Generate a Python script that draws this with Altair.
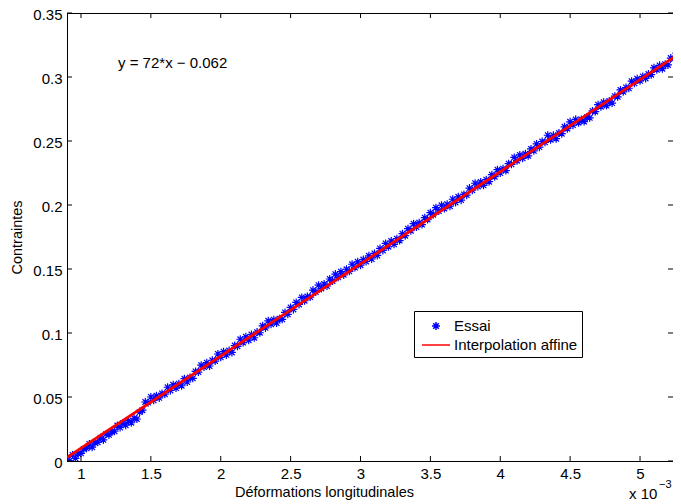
import altair as alt
import pandas as pd

# Essai (x in units of 1e-3) - two interleaved readings of the dense cloud
essai_x_a = [0.90, 0.94, 0.98, 1.02, 1.06, 1.10, 1.14, 1.18, 1.22, 1.26,
             1.30, 1.34, 1.38, 1.42, 1.46, 1.50, 1.54, 1.58, 1.62, 1.66,
             1.70, 1.74, 1.78, 1.82, 1.86, 1.90, 1.94, 1.98, 2.02, 2.06,
             2.10, 2.14, 2.18, 2.22, 2.26, 2.30, 2.34, 2.38, 2.42, 2.46,
             2.50, 2.54, 2.58, 2.62, 2.66, 2.70, 2.74, 2.78, 2.82, 2.86,
             2.90, 2.94, 2.98, 3.02, 3.06, 3.10, 3.14, 3.18, 3.22, 3.26,
             3.30, 3.34, 3.38, 3.42, 3.46, 3.50, 3.54, 3.58, 3.62, 3.66,
             3.70, 3.74, 3.78, 3.82, 3.86, 3.90, 3.94, 3.98, 4.02, 4.06,
             4.10, 4.14, 4.18, 4.22, 4.26, 4.30, 4.34, 4.38, 4.42, 4.46,
             4.50, 4.54, 4.58, 4.62, 4.66, 4.70, 4.74, 4.78, 4.82, 4.86,
             4.90, 4.94, 4.98, 5.02, 5.06, 5.10, 5.14, 5.18, 5.22, 5.26,
             5.30]
essai_y_a = [0.0008, 0.0047, 0.0056, 0.0094, 0.0133, 0.0142, 0.0181, 0.0210, 0.0228, 0.0277,
             0.0296, 0.0315, 0.0334, 0.0382, 0.0461, 0.0500, 0.0509, 0.0528, 0.0576, 0.0595,
             0.0604, 0.0643, 0.0652, 0.0700, 0.0749, 0.0768, 0.0787, 0.0836, 0.0854, 0.0863,
             0.0902, 0.0951, 0.0970, 0.0988, 0.1007, 0.1056, 0.1095, 0.1104, 0.1112, 0.1161,
             0.1200, 0.1239, 0.1278, 0.1286, 0.1335, 0.1374, 0.1383, 0.1422, 0.1460, 0.1479,
             0.1498, 0.1537, 0.1556, 0.1574, 0.1603, 0.1622, 0.1661, 0.1700, 0.1718, 0.1737,
             0.1776, 0.1815, 0.1854, 0.1862, 0.1901, 0.1940, 0.1979, 0.1998, 0.2006, 0.2045,
             0.2064, 0.2083, 0.2132, 0.2170, 0.2179, 0.2198, 0.2237, 0.2276, 0.2284, 0.2323,
             0.2372, 0.2391, 0.2400, 0.2438, 0.2477, 0.2496, 0.2545, 0.2544, 0.2562, 0.2611,
             0.2650, 0.2669, 0.2668, 0.2686, 0.2735, 0.2784, 0.2803, 0.2812, 0.2850, 0.2899,
             0.2918, 0.2967, 0.2986, 0.3004, 0.3023, 0.3072, 0.3091, 0.3100, 0.3148, 0.3187,
             0.3196]
essai_x_b = [0.92, 0.96, 1.00, 1.04, 1.08, 1.12, 1.16, 1.20, 1.24, 1.28,
             1.32, 1.36, 1.40, 1.44, 1.48, 1.52, 1.56, 1.60, 1.64, 1.68,
             1.72, 1.76, 1.80, 1.84, 1.88, 1.92, 1.96, 2.00, 2.04, 2.08,
             2.12, 2.16, 2.20, 2.24, 2.28, 2.32, 2.36, 2.40, 2.44, 2.48,
             2.52, 2.56, 2.60, 2.64, 2.68, 2.72, 2.76, 2.80, 2.84, 2.88,
             2.92, 2.96, 3.00, 3.04, 3.08, 3.12, 3.16, 3.20, 3.24, 3.28,
             3.32, 3.36, 3.40, 3.44, 3.48, 3.52, 3.56, 3.60, 3.64, 3.68,
             3.72, 3.76, 3.80, 3.84, 3.88, 3.92, 3.96, 4.00, 4.04, 4.08,
             4.12, 4.16, 4.20, 4.24, 4.28, 4.32, 4.36, 4.40, 4.44, 4.48,
             4.52, 4.56, 4.60, 4.64, 4.68, 4.72, 4.76, 4.80, 4.84, 4.88,
             4.92, 4.96, 5.00, 5.04, 5.08, 5.12, 5.16, 5.20, 5.24, 5.28]
essai_y_b = [0.0002, 0.0021, 0.0060, 0.0099, 0.0108, 0.0146, 0.0165, 0.0204, 0.0233, 0.0262,
             0.0280, 0.0299, 0.0328, 0.0397, 0.0456, 0.0474, 0.0493, 0.0522, 0.0551, 0.0570,
             0.0588, 0.0617, 0.0646, 0.0695, 0.0734, 0.0742, 0.0781, 0.0810, 0.0829, 0.0848,
             0.0896, 0.0925, 0.0944, 0.0963, 0.1002, 0.1040, 0.1069, 0.1078, 0.1107, 0.1146,
             0.1184, 0.1223, 0.1252, 0.1281, 0.1320, 0.1348, 0.1367, 0.1406, 0.1435, 0.1454,
             0.1482, 0.1511, 0.1530, 0.1559, 0.1578, 0.1606, 0.1645, 0.1674, 0.1693, 0.1722,
             0.1760, 0.1799, 0.1828, 0.1847, 0.1886, 0.1924, 0.1953, 0.1972, 0.1991, 0.2020,
             0.2038, 0.2077, 0.2116, 0.2145, 0.2154, 0.2182, 0.2221, 0.2250, 0.2269, 0.2318,
             0.2346, 0.2365, 0.2384, 0.2423, 0.2452, 0.2490, 0.2509, 0.2518, 0.2557, 0.2596,
             0.2624, 0.2643, 0.2652, 0.2681, 0.2730, 0.2768, 0.2777, 0.2796, 0.2845, 0.2884,
             0.2912, 0.2951, 0.2970, 0.2989, 0.3018, 0.3056, 0.3065, 0.3094, 0.3143, 0.3162]

# Interpolation affine : y = 72*x - 0.062
fit_x = [0.90, 5.30]
fit_y = [0.0028, 0.3196]

series_names = ["Essai", "Interpolation affine"]
series_colors = ["#0000ff", "#ff0000"]

x_ticks = [1, 1.5, 2, 2.5, 3, 3.5, 4, 4.5, 5]
y_ticks = [0, 0.05, 0.1, 0.15, 0.2, 0.25, 0.3, 0.35]

equation = "y = 72*x \u2212 0.062"
eq_pos_x = [1.265]
eq_pos_y = [0.311]

FONT = "Liberation Sans"
W, H = 606, 448
TICK = 5

df_pts = pd.DataFrame({"x": essai_x_a + essai_x_b, "y": essai_y_a + essai_y_b,
                       "serie": series_names[0]})
df_fit = pd.DataFrame({"x": fit_x, "y": fit_y, "serie": series_names[1]})
df_eq = pd.DataFrame({"x": eq_pos_x, "y": eq_pos_y, "t": [equation]})
df_xt = pd.DataFrame({"x": x_ticks})
df_yt = pd.DataFrame({"y": y_ticks})

xs = alt.Scale(domain=[0.9, 5.236], nice=False, zero=False)
ys = alt.Scale(domain=[0, 0.35], nice=False, zero=False)

ASTER = "M-0.4,0L0.4,0M0,-0.4L0,0.4M-0.28,-0.28L0.28,0.28M-0.28,0.28L0.28,-0.28"
LINE = "M-1.4,0L1.4,0"

leg = alt.Legend(orient="none", legendX=347, legendY=298, title=None)
color_enc = alt.Color("serie:N", scale=alt.Scale(domain=series_names, range=series_colors), legend=leg)
shape_enc = alt.Shape("serie:N", scale=alt.Scale(domain=series_names, range=[ASTER, LINE]), legend=leg)

main_x = alt.Axis(values=x_ticks, format="~g", ticks=False, grid=False, labelPadding=5,
                  title="Déformations longitudinales", titleX=257, titleY=35,
                  titleBaseline="alphabetic")
main_y = alt.Axis(values=y_ticks, format="~g", ticks=False, grid=False, labelPadding=5,
                  labelOffset=1, title="Contraintes", titlePadding=8)

X = alt.X("x:Q", scale=xs, axis=main_x)
Y = alt.Y("y:Q", scale=ys, axis=main_y)

points = alt.Chart(df_pts).mark_point(filled=False, size=400, strokeWidth=1.2, opacity=1, clip=True).encode(
    x=X, y=Y, color=color_enc, shape=shape_enc,
)

fit = alt.Chart(df_fit).mark_line(strokeWidth=2.8, clip=True).encode(
    x=X, y=Y, color=color_enc,
)

eq = alt.Chart(df_eq).mark_text(align="left", baseline="middle", fontSize=15, font=FONT).encode(
    x=X, y=Y, text="t:N",
)

# inward ticks on all four sides (MATLAB box style)
tick_b = alt.Chart(df_xt).mark_rule(color="black", strokeWidth=1).encode(
    x=X, y=alt.value(H), y2=alt.value(H - TICK))
tick_t = alt.Chart(df_xt).mark_rule(color="black", strokeWidth=1).encode(
    x=X, y=alt.value(0), y2=alt.value(TICK))
tick_l = alt.Chart(df_yt).mark_rule(color="black", strokeWidth=1).encode(
    y=Y, x=alt.value(0), x2=alt.value(TICK))
tick_r = alt.Chart(df_yt).mark_rule(color="black", strokeWidth=1).encode(
    y=Y, x=alt.value(W), x2=alt.value(W - TICK))

exp_base = alt.Chart(pd.DataFrame({"t": ["x 10"]})).mark_text(
    align="left", baseline="alphabetic", fontSize=15, font=FONT
).encode(x=alt.value(562), y=alt.value(486), text="t:N")
exp_sup = alt.Chart(pd.DataFrame({"t": ["\u22123"]})).mark_text(
    align="left", baseline="alphabetic", fontSize=11, font=FONT
).encode(x=alt.value(592), y=alt.value(475), text="t:N")

chart = alt.layer(points, fit, eq, tick_b, tick_t, tick_l, tick_r, exp_base, exp_sup).properties(
    width=W, height=H,
    autosize=alt.AutoSizeParams(type="none"),
    padding={"left": 59, "top": 5, "right": 0, "bottom": 40},
).configure_view(
    stroke="black", strokeWidth=1
).configure_axis(
    labelFont=FONT, labelFontSize=15, labelColor="black",
    titleFont=FONT, titleFontSize=14.5, titleFontWeight="normal", titleColor="black",
    domainColor="black", tickColor="black", tickWidth=1,
).configure_legend(
    labelFont=FONT, labelFontSize=15, labelColor="black", labelOffset=7,
    symbolSize=400, symbolStrokeWidth=1.5, symbolOffset=7,
    strokeColor="black", fillColor="white", padding=4, rowPadding=0,
    cornerRadius=0,
)

chart.save("out.html", embed_options={"renderer": "svg", "actions": False})
